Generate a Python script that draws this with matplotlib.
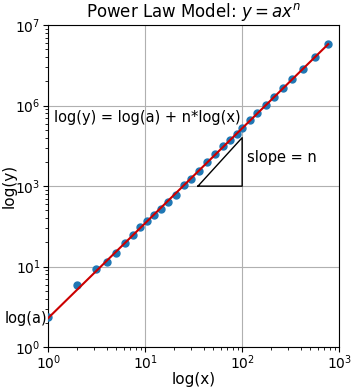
import matplotlib
matplotlib.use("Agg")
import matplotlib.pyplot as plt

# scatter points (y in plotted log units)
x_pts = [1, 2, 3.1, 4, 5, 6.2, 7.5, 8.9, 10.5, 12.4, 14.6, 17.3, 20.9, 25.2, 29.8,
         36, 43.6, 52.6, 63.5, 75, 89, 100, 121, 143, 177, 215, 265, 327, 425, 565, 770]
y_pts = [2.36, 5.9, 9.3, 11.4, 14.7, 19.6, 24.6, 31, 36.7, 43.7, 51.8, 63.3, 77.5, 103, 122,
         153, 199, 250, 314, 372, 443, 525, 661, 807, 1014, 1276, 1650, 2138, 2830, 3990, 5800]

# fitted line end points
line_x = [1, 770]
line_y = [2.3, 5800]

# slope triangle corners
tri_x = [35, 100, 100, 35]
tri_y = [100, 100, 400, 100]

y_ticks = [1, 10, 100, 1000, 10000]
y_tick_labels = ["$10^0$", "$10^1$", "$10^3$", "$10^6$", "$10^7$"]
x_ticks = [1, 10, 100, 1000]
x_tick_labels = ["$10^0$", "$10^1$", "$10^2$", "$10^3$"]

fig, ax = plt.subplots(figsize=(3.57, 3.87), dpi=100)
fig.subplots_adjust(left=0.135, right=0.95, top=0.935, bottom=0.103)

ax.set_xscale("log")
ax.set_yscale("log")
ax.plot(x_pts, y_pts, "o", color="#1f77b4", markersize=5, zorder=3)
ax.plot(line_x, line_y, "-", color="#cc0000", linewidth=1.5, zorder=4)
ax.plot(tri_x, tri_y, "-", color="black", linewidth=1.0)

ax.set_xlim(1, 1000)
ax.set_ylim(1, 10000)
ax.set_xticks(x_ticks)
ax.set_xticklabels(x_tick_labels)
ax.set_yticks(y_ticks)
ax.set_yticklabels(y_tick_labels)
ax.grid(True, which="major", color="#b0b0b0", linewidth=0.8)
ax.tick_params(labelsize=10)
ax.tick_params(axis="x", pad=1)
ax.tick_params(axis="y", pad=2)

ax.set_xlabel("log(x)", fontsize=11, labelpad=0)
ax.set_ylabel("log(y)", fontsize=11, labelpad=-1)
ax.set_title("Power Law Model: $y = ax^n$", fontsize=12)

ax.text(1.15, 720, "log(y) = log(a) + n*log(x)", fontsize=10.5, ha="left", va="center")
ax.text(113, 229, "slope = n", fontsize=10.5, ha="left", va="center")
ax.text(0.97, 2.3, "log(a)", fontsize=10.5, ha="right", va="center", clip_on=False)

fig.savefig("out.png", dpi=100)
